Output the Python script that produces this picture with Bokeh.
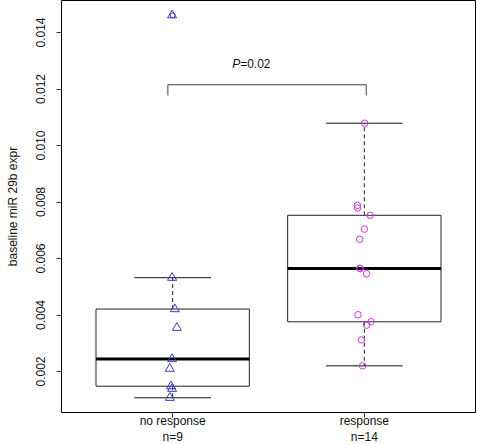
import numpy as np
from bokeh.plotting import figure
from bokeh.models import Range1d, FixedTicker, ColumnDataSource
from bokeh.core.properties import value
from bokeh.embed import file_html
from bokeh.resources import INLINE

# ---- data ----
groups = ["no response", "response"]
group_labels = ["no response\nn=9", "response\nn=14"]
no_resp = [0.01461, 0.00532, 0.00421, 0.00355, 0.00244, 0.00210, 0.00148, 0.00139, 0.00107]
no_resp_jitter = [-0.003, -0.003, 0.011, 0.022, -0.003, -0.015, -0.009, -0.003, -0.015]
resp = [0.01079, 0.00788, 0.00779, 0.00753, 0.00704, 0.00668, 0.00566, 0.00564,
        0.00546, 0.00401, 0.00376, 0.00364, 0.00312, 0.00220]
resp_jitter = [0.002, -0.036, -0.035, 0.030, 0.000, -0.024, -0.024, -0.021,
               0.012, -0.033, 0.035, 0.012, -0.016, -0.009]
y_ticks = [0.002, 0.004, 0.006, 0.008, 0.010, 0.012, 0.014]
p_text = "=0.02"
bracket_y = [0.01177, 0.01215]
bracket_x = [0.975, 2.01]

FONT = "Liberation Sans"
BLUE = "#3A3AC4"
MAGENTA = "#C83ADC"


def box_stats(vals):
    """R-style boxplot statistics (Tukey hinges, 1.5 IQR whiskers)."""
    s = np.sort(np.asarray(vals, dtype=float))
    n = len(s)
    n4 = np.floor((n + 3) / 2) / 2
    d = np.array([1, n4, (n + 1) / 2, n + 1 - n4, n]) - 1
    fn = 0.5 * (s[np.floor(d).astype(int)] + s[np.ceil(d).astype(int)])
    q1, med, q3 = fn[1], fn[2], fn[3]
    iqr = q3 - q1
    inside = s[(s >= q1 - 1.5 * iqr) & (s <= q3 + 1.5 * iqr)]
    lo, hi = inside.min(), inside.max()
    out = s[(s < lo) | (s > hi)]
    return q1, med, q3, lo, hi, out


p = figure(frame_width=414, frame_height=412, output_backend="svg", toolbar_location=None,
           x_range=Range1d(0.42, 2.58), y_range=Range1d(0.000549, 0.015133),
           min_border_left=61, min_border_right=2, min_border_top=0,
           min_border_bottom=0)
p.background_fill_color = "white"
p.border_fill_color = "white"
p.outline_line_color = "black"
p.outline_line_width = 1
p.grid.visible = False

# axes
p.yaxis.ticker = FixedTicker(ticks=y_ticks)
p.yaxis.major_label_overrides = {t: f"{t:.3f}" for t in y_ticks}
p.yaxis.major_label_orientation = "vertical"
p.yaxis.axis_label = "baseline miR 29b expr"
p.yaxis.axis_label_text_font_style = "normal"
p.xaxis.ticker = FixedTicker(ticks=[1, 2])
p.xaxis.major_label_overrides = {1: group_labels[0], 2: group_labels[1]}
for ax in (p.xaxis, p.yaxis):
    ax.axis_line_color = None
    ax.minor_tick_line_color = None
    ax.major_tick_in = 0
    ax.major_tick_out = 5
    ax.major_tick_line_color = "#333333"
    ax.major_label_text_font = FONT
    ax.major_label_text_font_size = "12px"
    ax.major_label_text_color = "#111111"
    ax.axis_label_text_font = FONT
    ax.axis_label_text_font_size = "12px"
    ax.axis_label_text_color = "#111111"
p.yaxis.major_label_standoff = 11
p.yaxis.axis_label_standoff = 14
p.xaxis.major_label_standoff = -4
p.xaxis.major_label_text_line_height = 1.15

# boxplots
for i, (vals, jit, color, marker) in enumerate(
        [(no_resp, no_resp_jitter, BLUE, "triangle"),
         (resp, resp_jitter, MAGENTA, "circle")]):
    x = i + 1
    q1, med, q3, lo, hi, out = box_stats(vals)
    # whiskers (dashed)
    p.segment(x0=[x, x], y0=[q3, q1], x1=[x, x], y1=[hi, lo],
              line_color="#222222", line_width=1, line_dash="4 3")
    # staples
    p.segment(x0=[x - 0.2, x - 0.2], y0=[hi, lo], x1=[x + 0.2, x + 0.2], y1=[hi, lo],
              line_color="#111111", line_width=1)
    # box
    p.quad(left=x - 0.4, right=x + 0.4, bottom=q1, top=q3,
           fill_color=None, line_color="#222222", line_width=1)
    # median
    p.segment(x0=[x - 0.4], y0=[med], x1=[x + 0.4], y1=[med],
              line_color="black", line_width=3)
    # outliers (boxplot symbol)
    if len(out):
        p.scatter(x=[x] * len(out), y=list(out), marker="circle", size=5,
                  fill_color=None, line_color=BLUE, line_width=1)
    # jittered points
    src = ColumnDataSource(dict(x=[x + j for j in jit], y=vals))
    p.scatter(x="x", y="y", source=src, marker=marker,
              size=9 if marker == "triangle" else 6.5,
              fill_color=None, line_color=color, line_width=1)

# significance bracket
p.segment(x0=[bracket_x[0], bracket_x[0], bracket_x[1]],
          y0=[bracket_y[1], bracket_y[0], bracket_y[0]],
          x1=[bracket_x[1], bracket_x[0], bracket_x[1]],
          y1=[bracket_y[1], bracket_y[1], bracket_y[1]],
          line_color="#444444", line_width=1)
p.text(x=[1.352], y=[0.0129], text=["P"], text_font=value(FONT),
       text_font_style="italic", text_font_size="12px", text_color="#111111",
       text_align="right", text_baseline="middle")
p.text(x=[1.352], y=[0.0129], text=[p_text], text_font=value(FONT),
       text_font_size="12px", text_color="#111111",
       text_align="left", text_baseline="middle")

open("out.html", "w").write(file_html(p, INLINE))
